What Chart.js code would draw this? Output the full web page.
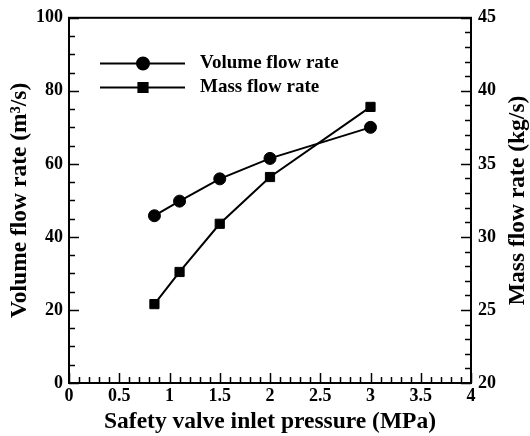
<!DOCTYPE html>
<html>
<head>
<meta charset="utf-8">
<script src="https://cdn.jsdelivr.net/npm/chart.js@4.4.1/dist/chart.umd.min.js"></script>
<style>
  body { margin: 0; background: #fff; }
  canvas { display: block; }
</style>
</head>
<body>
<canvas id="flowChart" width="530" height="436"></canvas>
<script>
const pressure = [0.85, 1.1, 1.5, 2.0, 3.0];
const volumeFlow = [45.8, 49.8, 55.9, 61.5, 70.0];
const massFlow = [25.4, 27.6, 30.9, 34.1, 38.9];

const seriesLabels = ['Volume flow rate', 'Mass flow rate'];
const xTitle = 'Safety valve inlet pressure (MPa)';
const yTitle = 'Volume flow rate (m³/s)';
const y1Title = 'Mass flow rate (kg/s)';

const FONT = "'Liberation Serif', 'Times New Roman', serif";
const tickFont = { family: FONT, size: 18, weight: 'bold' };
const titleFont = { family: FONT, size: 23.5, weight: 'bold' };

function toPoints(xs, ys) {
  return xs.map((x, i) => ({ x, y: ys[i] }));
}

function isMultiple(value, step) {
  const r = value / step;
  return Math.abs(r - Math.round(r)) < 1e-6;
}

// inward tick marks, long for labelled values, short for the rest
const innerTicks = {
  id: 'innerTicks',
  afterDraw(chart) {
    const { ctx, chartArea: area } = chart;
    const marks = [
      { id: 'x', major: 0.5 },
      { id: 'y', major: 20 },
      { id: 'y1', major: 5 }
    ];
    ctx.save();
    ctx.strokeStyle = '#000';
    ctx.lineWidth = 1.5;
    marks.forEach(({ id, major }) => {
      const scale = chart.scales[id];
      scale.ticks.forEach((tick) => {
        const len = isMultiple(tick.value, major) ? 10 : 6;
        const p = Math.round(scale.getPixelForValue(tick.value)) + 0.5;
        ctx.beginPath();
        if (id === 'x') {
          ctx.moveTo(p, area.bottom);
          ctx.lineTo(p, area.bottom - len);
        } else if (id === 'y') {
          ctx.moveTo(area.left, p);
          ctx.lineTo(area.left + len, p);
        } else {
          ctx.moveTo(area.right, p);
          ctx.lineTo(area.right - len, p);
        }
        ctx.stroke();
      });
    });
    ctx.lineWidth = 2;
    ctx.strokeRect(area.left, area.top, area.right - area.left, area.bottom - area.top);

    // right axis title reads bottom to top
    ctx.fillStyle = '#000';
    ctx.font = `bold ${titleFont.size}px ${FONT}`;
    ctx.textAlign = 'center';
    ctx.textBaseline = 'middle';
    ctx.translate(518, (area.top + area.bottom) / 2);
    ctx.rotate(-Math.PI / 2);
    ctx.fillText(y1Title, 0, 0);
    ctx.restore();
  }
};

const lineLegend = {
  id: 'lineLegend',
  afterDraw(chart) {
    const { ctx } = chart;
    ctx.save();
    chart.data.datasets.forEach((ds, i) => {
      const y = 63.5 + i * 24;
      ctx.strokeStyle = '#000';
      ctx.lineWidth = 2;
      ctx.beginPath();
      ctx.moveTo(100, y);
      ctx.lineTo(185, y);
      ctx.stroke();
      ctx.fillStyle = '#000';
      Chart.helpers.drawPoint(ctx, {
        pointStyle: ds.pointStyle,
        radius: ds.pointRadius,
        rotation: 0,
        borderWidth: 1
      }, 143, y);
      ctx.font = `bold 19px ${FONT}`;
      ctx.textAlign = 'left';
      ctx.textBaseline = 'middle';
      ctx.fillText(ds.label, 200, y);
    });
    ctx.restore();
  }
};

new Chart(document.getElementById('flowChart'), {
  type: 'scatter',
  data: {
    datasets: [
      {
        label: seriesLabels[0],
        data: toPoints(pressure, volumeFlow),
        yAxisID: 'y',
        showLine: true,
        borderColor: '#000',
        backgroundColor: '#000',
        borderWidth: 2,
        pointStyle: 'circle',
        pointRadius: 6,
        pointBorderWidth: 1
      },
      {
        label: seriesLabels[1],
        data: toPoints(pressure, massFlow),
        yAxisID: 'y1',
        showLine: true,
        borderColor: '#000',
        backgroundColor: '#000',
        borderWidth: 2,
        pointStyle: 'rect',
        pointRadius: 6.5,
        pointBorderWidth: 1
      }
    ]
  },
  options: {
    responsive: false,
    animation: false,
    layout: { padding: { top: 15, left: 0, right: 0, bottom: 0 } },
    plugins: {
      legend: { display: false },
      tooltip: { enabled: false }
    },
    scales: {
      x: {
        type: 'linear',
        min: 0,
        max: 4,
        afterFit(scale) { scale.height = 53; },
        grid: { display: false, drawTicks: false },
        border: { display: false },
        ticks: {
          stepSize: 0.1,
          autoSkip: false,
          maxRotation: 0,
          padding: 3,
          color: '#000',
          font: tickFont,
          callback: (v) => (isMultiple(v, 0.5) ? String(Math.round(v * 10) / 10) : '')
        },
        title: {
          display: true,
          text: xTitle,
          color: '#000',
          font: titleFont,
          padding: { top: 0, bottom: 0 }
        }
      },
      y: {
        type: 'linear',
        position: 'left',
        min: 0,
        max: 100,
        afterFit(scale) { scale.width = 69; },
        grid: { display: false, drawTicks: false },
        border: { display: false },
        ticks: {
          stepSize: 5,
          autoSkip: false,
          padding: 6,
          color: '#000',
          font: tickFont,
          callback: (v) => (isMultiple(v, 20) ? String(v) : '')
        },
        title: {
          display: true,
          text: yTitle,
          color: '#000',
          font: titleFont,
          padding: { top: 6, bottom: 0 }
        }
      },
      y1: {
        type: 'linear',
        position: 'right',
        min: 20,
        max: 45,
        afterFit(scale) { scale.width = 59; },
        grid: { display: false, drawTicks: false },
        border: { display: false },
        ticks: {
          stepSize: 1,
          autoSkip: false,
          padding: 7,
          color: '#000',
          font: tickFont,
          callback: (v) => (isMultiple(v, 5) ? String(v) : '')
        }
      }
    }
  },
  plugins: [innerTicks, lineLegend]
});
</script>
</body>
</html>
